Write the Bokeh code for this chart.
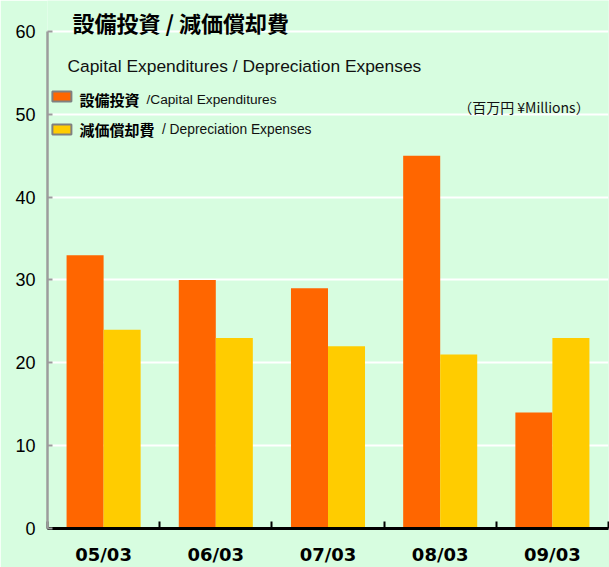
from bokeh.plotting import figure
from bokeh.models import ColumnDataSource, FixedTicker, Label, Range1d
from bokeh.transform import dodge
from bokeh.embed import file_html
from bokeh.resources import INLINE

# ---- data ----
categories = ["05/03", "06/03", "07/03", "08/03", "09/03"]
capex = [33, 30, 29, 45, 14]            # 設備投資 / Capital Expenditures
depreciation = [24, 23, 22, 21, 23]     # 減価償却費 / Depreciation Expenses
y_ticks = [0, 10, 20, 30, 40, 50, 60]

BG = "#d7fde0"
ORANGE = "#ff6600"
YELLOW = "#ffcc00"
LATIN = "Liberation Sans"
CJK = "Noto Sans CJK JP"

n = len(categories)
x_centers = [i + 0.5 for i in range(n)]
src = ColumnDataSource(dict(x=x_centers, capex=capex, dep=depreciation, cat=categories))

p = figure(width=609, height=567,
           x_range=Range1d(0, n), y_range=Range1d(0, 63.74),
           output_backend="svg", toolbar_location=None,
           min_border_left=47, min_border_right=1, min_border_top=0, min_border_bottom=39,
           background_fill_color=BG, border_fill_color=BG, outline_line_color=None)

p.vbar(x=dodge("x", -0.165, range=p.x_range), top="capex", width=0.33, source=src,
       fill_color=ORANGE, line_color=None)
p.vbar(x=dodge("x", 0.165, range=p.x_range), top="dep", width=0.33, source=src,
       fill_color=YELLOW, line_color=None)

# x axis
p.xaxis.ticker = FixedTicker(ticks=x_centers, minor_ticks=list(range(n + 1)))
p.xaxis.major_label_overrides = {x: c for x, c in zip(x_centers, categories)}
p.xaxis.major_tick_in = 0
p.xaxis.major_tick_out = 0
p.xaxis.minor_tick_in = 7
p.xaxis.minor_tick_out = 0
p.xaxis.minor_tick_line_color = "black"
p.xaxis.minor_tick_line_width = 2
p.xaxis.axis_line_color = "black"
p.xaxis.axis_line_width = 3
p.xaxis.major_label_text_font = "DejaVu Sans"
p.xaxis.major_label_text_font_style = "bold"
p.xaxis.major_label_text_font_size = "18px"
p.xaxis.major_label_text_line_height = 1.0
p.xaxis.major_label_text_color = "black"
p.xaxis.major_label_standoff = 15

# y axis
p.yaxis.ticker = FixedTicker(ticks=y_ticks)
p.yaxis.bounds = (0, 60)
p.yaxis.axis_line_color = "#9c9c9c"
p.yaxis.axis_line_width = 2.5
p.yaxis.major_tick_in = 5
p.yaxis.major_tick_out = 0
p.yaxis.major_tick_line_color = "#9c9c9c"
p.yaxis.major_tick_line_width = 2
p.yaxis.minor_tick_line_color = None
p.yaxis.major_label_text_font = LATIN
p.yaxis.major_label_text_font_size = "18px"
p.yaxis.major_label_text_color = "black"
p.yaxis.major_label_standoff = 12

p.xgrid.visible = False
p.ygrid.ticker = FixedTicker(ticks=y_ticks)
p.ygrid.grid_line_color = "white"
p.ygrid.grid_line_width = 2

# ---- texts ----
p.add_layout(Label(x=0.223, y=61.09, text="設備投資 / 減価償却費", text_font=CJK,
                   text_font_style="bold", text_font_size="22px", text_color="black",
                   text_baseline="middle"))
p.add_layout(Label(x=0.178, y=55.78, text="Capital Expenditures / Depreciation Expenses",
                   text_font=LATIN, text_font_size="17.4px", text_color="#111111",
                   text_baseline="middle"))

# legend swatches
p.rect(x=[0.1283, 0.1283], y=[52.15, 48.17], width=19, height=10,
       width_units="screen", height_units="screen",
       fill_color=[ORANGE, YELLOW], line_color="#808080", line_width=2)

p.add_layout(Label(x=0.285, y=51.79, text="設備投資", text_font=CJK,
                   text_font_style="bold", text_font_size="15px", text_color="black",
                   text_baseline="middle"))
p.add_layout(Label(x=0.882, y=51.79, text="/Capital Expenditures", text_font=LATIN,
                   text_font_size="13.7px", text_color="#111111", text_baseline="middle"))
p.add_layout(Label(x=0.285, y=48.17, text="減価償却費", text_font=CJK,
                   text_font_style="bold", text_font_size="15px", text_color="black",
                   text_baseline="middle"))
p.add_layout(Label(x=1.02, y=48.17, text="/  Depreciation Expenses", text_font=LATIN,
                   text_font_size="13.8px", text_color="#111111", text_baseline="middle"))

p.add_layout(Label(x=3.66, y=50.83, text="（百万円  ¥Millions）", text_font=CJK,
                   text_font_size="14px", text_color="#111111", text_baseline="middle"))

html = file_html(p, INLINE)
html = html.replace("<body", '<body style="background-color:%s"' % BG, 1)
open("out.html", "w").write(html)
